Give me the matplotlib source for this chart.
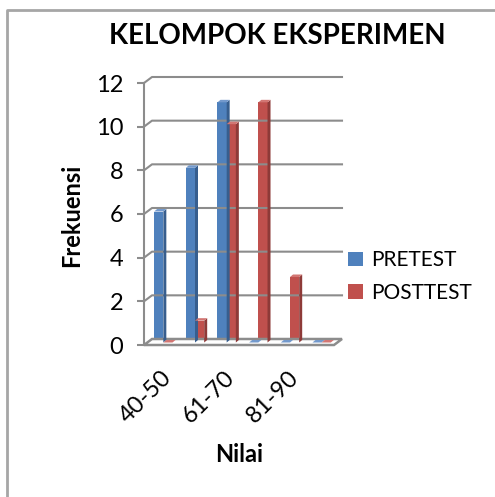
import matplotlib.pyplot as plt
import matplotlib.transforms as mtransforms
from matplotlib.patches import Polygon, Patch
from matplotlib.lines import Line2D
import numpy as np

#### Data ####
categories = ["40-50", "51-60", "61-70", "71-80", "81-90", "91-100"]
pretest = [6, 8, 11, 0, 0, 0]
posttest = [0, 1, 10, 11, 3, 0]
series_names = ["PRETEST", "POSTTEST"]
y_ticks = [0, 2, 4, 6, 8, 10, 12]

#### Style ####
plt.rcParams['font.family'] = ['Lato', 'DejaVu Sans']
GRID = '#8c8c8c'
# front, side, top
BLUE = ('#4F81BD', '#375E8E', '#7399CC')
RED = ('#C0504D', '#8E3A38', '#D27673')

W, H = 495, 497
fig = plt.figure(figsize=(W / 100, H / 100), dpi=100)
ax = fig.add_axes([144 / W, 1 - 345 / H, 190 / W, 262 / H])
ax.set_xlim(-0.5, 5.5)
ax.set_ylim(0, 12)
ax.patch.set_visible(False)
for name, sp in ax.spines.items():
    sp.set_visible(name == 'left')
ax.spines['left'].set_color(GRID)
ax.spines['left'].set_linewidth(1.5)

# depth of the back wall, bar position and bar depth (pixels)
WALL = (8, 6)
BAR_OFF = (3.5, 2.5)
BAR_D = (3, 2.5)


def px(x, y):
    return ax.transData.transform((x, y))


ident = mtransforms.IdentityTransform()

# back wall gridlines
for v in y_ticks[1:]:
    x0, y0 = px(-0.5, v)
    x1, _ = px(5.5, v)
    fig.add_artist(Line2D([x0, x0 + WALL[0], x1 + WALL[0]],
                          [y0, y0 + WALL[1], y0 + WALL[1]],
                          color=GRID, lw=1.5, transform=ident, zorder=1))

# floor
x0, y0 = px(-0.5, 0)
x1, _ = px(5.5, 0)
floor = Polygon([(x0, y0), (x1, y0), (x1 + WALL[0], y0 + WALL[1]),
                 (x0 + WALL[0], y0 + WALL[1])], closed=True,
                facecolor='white', edgecolor=GRID, lw=1.8,
                transform=ident, zorder=1)
fig.add_artist(floor)

# bars
x = np.arange(len(categories))
w = 0.29
shift = mtransforms.ScaledTranslation(BAR_OFF[0] / 100, BAR_OFF[1] / 100,
                                      fig.dpi_scale_trans)
for vals, xs, cols in [(pretest, x - w / 2, BLUE), (posttest, x + w / 2, RED)]:
    bars = ax.bar(xs, vals, w, color=cols[0], transform=ax.transData + shift,
                  clip_on=False, zorder=3)
    for xi, v in zip(xs, vals):
        bx0, by0 = px(xi - w / 2, 0)
        bx1, by1 = px(xi + w / 2, v)
        bx0 += BAR_OFF[0]; bx1 += BAR_OFF[0]
        by0 += BAR_OFF[1]; by1 += BAR_OFF[1]
        dx, dy = BAR_D
        side = Polygon([(bx1, by0), (bx1 + dx, by0 + dy), (bx1 + dx, by1 + dy), (bx1, by1)],
                       closed=True, facecolor=cols[1], edgecolor='none',
                       transform=ident, zorder=3)
        top = Polygon([(bx0, by1), (bx1, by1), (bx1 + dx, by1 + dy), (bx0 + dx, by1 + dy)],
                      closed=True, facecolor=cols[2], edgecolor='none',
                      transform=ident, zorder=3)
        fig.add_artist(side)
        fig.add_artist(top)

# axes ticks
ax.set_yticks(y_ticks)
ax.tick_params(axis='y', direction='out', length=5, width=1.5, color=GRID,
               pad=10, labelsize=17)
ax.set_xticks(x[::2], categories[::2])
ax.tick_params(axis='x', length=0, pad=16, labelsize=17)
lab_shift = mtransforms.ScaledTranslation(1 / 100, 0, fig.dpi_scale_trans)
for lab in ax.get_xticklabels():
    lab.set_rotation(45)
    lab.set_ha('right')
    lab.set_va('top')
    lab.set_rotation_mode('anchor')
    lab.set_transform(lab.get_transform() + lab_shift)

# texts
fig.text(277 / W, 1 - 36 / H, "KELOMPOK EKSPERIMEN", ha='center', va='center',
         fontsize=20, fontweight='bold')
fig.text(72 / W, 1 - 215 / H, "Frekuensi", rotation=90, ha='center', va='center',
         fontsize=17, fontweight='bold')
fig.text(239 / W, 1 - 455 / H, "Nilai", ha='center', va='center',
         fontsize=17, fontweight='bold')

# legend
handles = [Patch(facecolor=BLUE[0]), Patch(facecolor=RED[0])]
fig.legend(handles, series_names, loc='center left',
           bbox_to_anchor=(348 / W, 1 - 276.5 / H), frameon=False,
           fontsize=15, borderpad=0, borderaxespad=0, handlelength=0.72,
           handleheight=0.72, handletextpad=0.4, labelspacing=0.6)

# chart border
fig.add_artist(Line2D([7 / W, 7 / W, 1], [0, 1 - 10 / H, 1 - 10 / H],
                      color='#a6a6a6', lw=2, transform=fig.transFigure))

fig.savefig("out.png", dpi=100)
